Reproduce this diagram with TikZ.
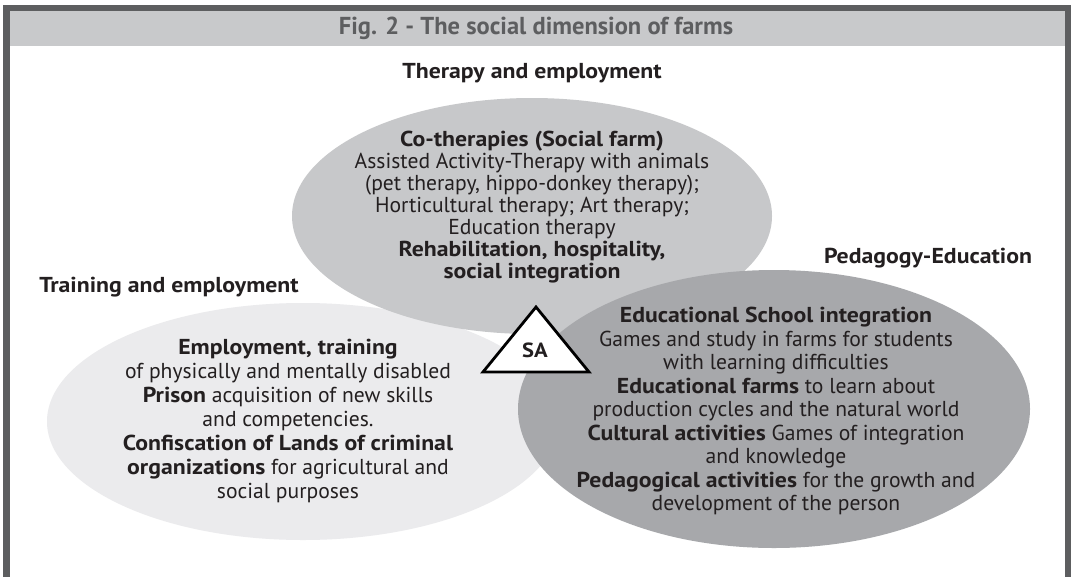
\documentclass[tikz,border=0pt]{standalone}
\usepackage{fontspec}
\setmainfont{PT Sans}[BoldFeatures={FakeStretch=1.1}]
\newfontfamily\titlefont{PT Sans}
\usetikzlibrary{positioning}
\definecolor{framegray}{HTML}{5D5E60}
\definecolor{bargray}{HTML}{C8C9CB}
\definecolor{lightfill}{HTML}{EBEBED}
\definecolor{midfill}{HTML}{C7C8CA}
\definecolor{darkfill}{HTML}{A7A8AB}
\definecolor{ink}{HTML}{231F20}
\begin{document}
\begin{tikzpicture}[x=1pt,y=-1pt,
  heading/.style={font=\fontsize{21.6}{23}\selectfont\bfseries,text=ink,inner sep=0pt},
  body/.style={align=center,font=\fontsize{21.6}{#1}\selectfont,text=ink,inner sep=0pt},
  body/.default=23.5]
\useasboundingbox (0,0) rectangle (1071,576);
\fill[white] (0,0) rectangle (1071,576);
% frame and title bar
\fill[bargray] (6,8) rectangle (1068,46);
\draw[framegray,line width=6.5pt] (6.5,8) rectangle (1068,620);
\node[font=\titlefont\fontsize{24.5}{26}\selectfont\bfseries,text=framegray] (title) at (536,28)
 {Fig. 2 - The social dimension of farms};
% the three fields
\fill[lightfill] (303,421.5) ellipse [x radius=256,y radius=118.5];
\fill[midfill] (532,216) ellipse [x radius=240,y radius=118];
\fill[darkfill] (774,409) ellipse [x radius=256,y radius=139];
\node[heading] (therapyhead) at (532,73) {Therapy and employment};
\node[heading] (traininghead) at (169,287) {Training and employment};
\node[heading] (pedagogyhead) at (928,258) {Pedagogy-Education};
\node[body=22] (therapy) at (532,207) {\textbf{Co-therapies (Social farm)}\\
 Assisted Activity-Therapy with animals\\
 (pet therapy, hippo-donkey therapy);\\
 Horticultural therapy; Art therapy;\\
 Education therapy\\
 \textbf{Rehabilitation, hospitality,}\\
 \textbf{social integration}};
\node[body=24] (training) at (288,421) {\textbf{Employment, training}\\
 of physically and mentally disabled\\
 \textbf{Prison} acquisition of new skills\\
 and competencies.\\
 \textbf{Confiscation of Lands of criminal}\\
 \textbf{organizations} for agricultural and\\
 social purposes};
\node[body] (pedagogy) at (776,411) {\textbf{Educational School integration}\\
 Games and study in farms for students\\
 with learning difficulties\\
 \textbf{Educational farms} to learn about\\
 production cycles and the natural world\\
 \textbf{Cultural activities} Games of integration\\
 and knowledge\\
 \textbf{Pedagogical activities} for the growth and\\
 development of the person};
% social agriculture at the centre
\filldraw[fill=white,draw=black,line width=2.8pt,line join=miter]
 (536,307) -- (589,372) -- (483,372) -- cycle;
\node[font=\fontsize{20.5}{22}\selectfont\bfseries,text=ink] (sa) at (535,350) {SA};
\end{tikzpicture}
\end{document}
